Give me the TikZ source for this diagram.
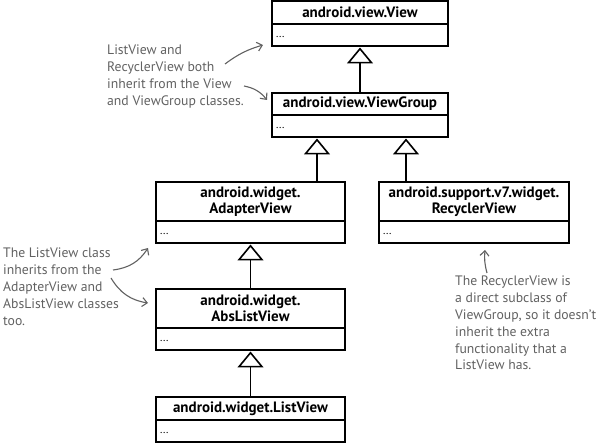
\documentclass[tikz,border=0pt]{standalone}
\usepackage{fontspec}
\setmainfont{PT Sans}
\usepackage{tikz}
\usetikzlibrary{positioning,arrows.meta}
\definecolor{notegray}{gray}{0.38}
\tikzset {
    style head/.style={
        draw=black,
        line width=1.6pt,
        rectangle, % class name part
        outer sep=0pt,
        inner sep=0pt,
        align=center,
        font=\fontsize{15}{16}\selectfont\bfseries,
    },
    style body/.style={
        draw=black,
        line width=1.6pt,
        rectangle, % members part
        outer sep=0pt,
        inner xsep=4pt,
        inner ysep=0pt,
        minimum height=22pt,
        text width=#1,
        text height=9pt,
        text depth=3pt,
        align=left,
        font=\fontsize{11}{13}\selectfont,
    },
    style note/.style={
        anchor=north west,
        inner sep=0pt,
        align=left,
        text=notegray,
        font=\fontsize{13.7}{16.8}\selectfont,
    },
    style inherit/.style={
        line width=1.6pt,
        -{Triangle[open,length=16pt,width=26pt]},
        shorten >=1.5pt,
    },
    style pointer/.style={
        draw=notegray,
        line width=1.1pt,
        -{Straight Barb[length=5pt,width=9pt]},
    },
}

\begin{document}
\begin{tikzpicture}[x=1pt, y=-1pt]
    \useasboundingbox (0,0) rectangle (600,443);

    % classes
    \node[style head, minimum width=176pt, minimum height=23pt] at (360,12.5) (viewhead) {android.view.View};
    \node[style body=168pt, below=0pt of viewhead] (viewbody) {...};

    \node[style head, minimum width=176pt, minimum height=22pt] at (360,104) (vghead) {android.view.ViewGroup};
    \node[style body=168pt, below=0pt of vghead] (vgbody) {...};

    \node[style head, minimum width=189pt, minimum height=39pt] at (250.5,201.5) (adapterhead) {android.widget.\\AdapterView};
    \node[style body=181pt, below=0pt of adapterhead] (adapterbody) {...};

    \node[style head, minimum width=190pt, minimum height=39pt] at (474,201.5) (recyclerhead) {android.support.v7.widget.\\RecyclerView};
    \node[style body=182pt, below=0pt of recyclerhead] (recyclerbody) {...};

    \node[style head, minimum width=189pt, minimum height=39pt] at (250.5,308.5) (abshead) {android.widget.\\AbsListView};
    \node[style body=181pt, below=0pt of abshead] (absbody) {...};

    \node[style head, minimum width=189pt, minimum height=23pt] at (250.5,408.5) (listhead) {android.widget.ListView};
    \node[style body=181pt, below=0pt of listhead] (listbody) {...};

    % inheritance
    \coordinate (vgleft) at ([xshift=-43pt]vgbody.south);
    \coordinate (vgright) at ([xshift=46pt]vgbody.south);
    \draw[style inherit] (vghead) -- (viewbody);
    \draw[style inherit] (vgleft |- adapterhead.north) -- (vgleft);
    \draw[style inherit] (vgright |- recyclerhead.north) -- (vgright);
    \draw[style inherit] (abshead) -- (adapterbody);
    \draw[style inherit] (listhead) -- (absbody);

    % notes
    \node[style note] at (107,45) (noteview) {ListView and\\RecyclerView both\\inherit from the View\\and ViewGroup classes.};
    \node[style note] at (3,248) (notelist) {The ListView class\\inherits from the\\AdapterView and\\AbsListView classes\\too.};
    \node[style note] at (455,276) (noterecycler) {The RecyclerView is\\a direct subclass of\\ViewGroup, so it doesn't\\inherit the extra\\functionality that a\\ListView has.};

    \draw[style pointer] ([shift={(118,19)}]noteview.north west) to[bend left=10] ([shift={(-9,-1)}]viewbody.south west);
    \draw[style pointer] ([shift={(137,41)}]noteview.north west) to[bend left=20] ([shift={(-5,-4)}]vghead.west);
    \draw[style pointer] ([shift={(110,22)}]notelist.north west) to[bend right=25] ([shift={(-8,5)}]adapterbody.south west);
    \draw[style pointer] ([shift={(108,30)}]notelist.north west) to[bend right=25] ([shift={(-8,-5.5)}]abshead.west);
    \draw[style pointer] ([shift={(32,-3)}]noterecycler.north west) to[bend left=10] ([shift={(11,7)}]recyclerbody.south);
\end{tikzpicture}
\end{document}
